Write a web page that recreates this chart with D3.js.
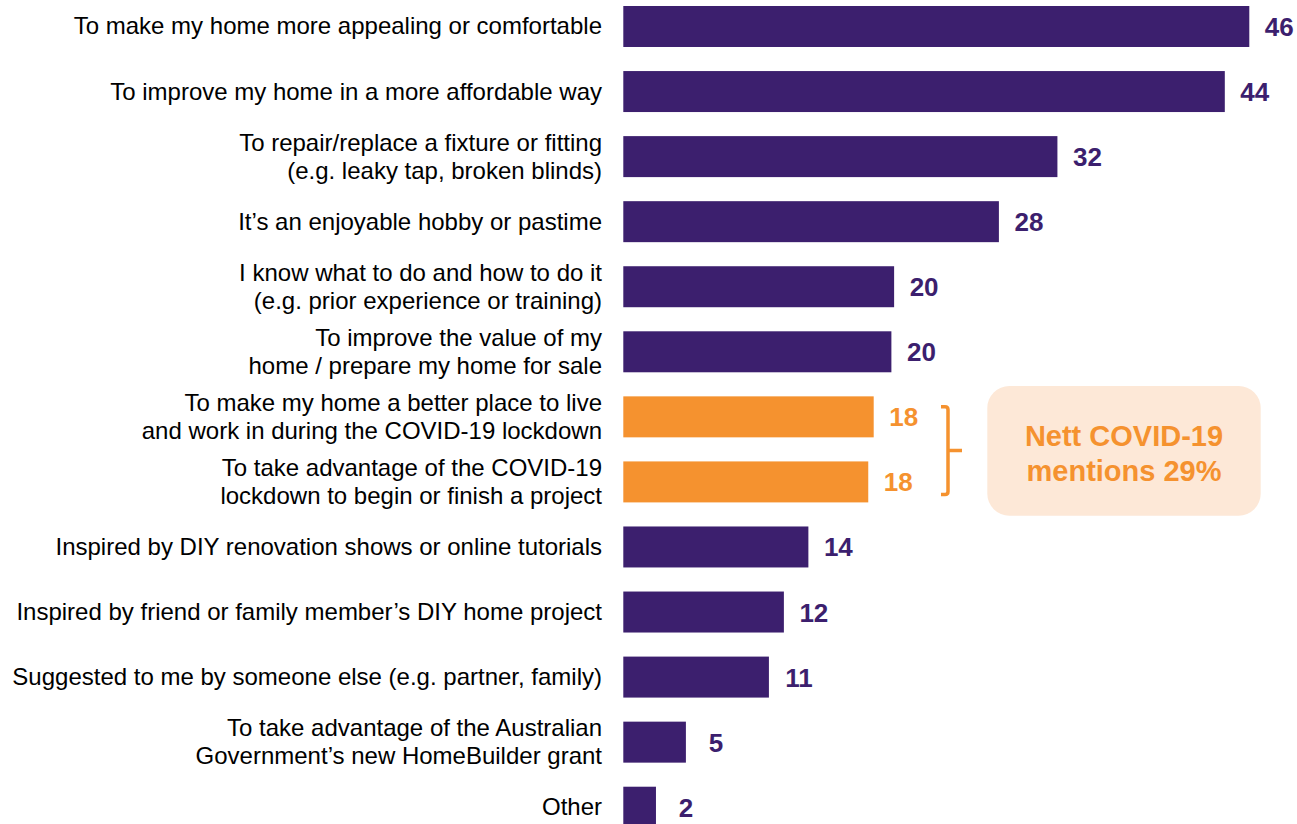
<!DOCTYPE html>
<html><head><meta charset="utf-8">
<script src="https://cdn.jsdelivr.net/npm/d3@7"></script>
<style>html,body{margin:0;padding:0;background:#fff;overflow:hidden}</style>
</head><body><svg id="chart" width="1297" height="824"></svg>
<script>
const categories = [
  "To make my home more appealing or comfortable",
  "To improve my home in a more affordable way",
  "To repair/replace a fixture or fitting\n(e.g. leaky tap, broken blinds)",
  "It\u2019s an enjoyable hobby or pastime",
  "I know what to do and how to do it\n(e.g. prior experience or training)",
  "To improve the value of my\nhome / prepare my home for sale",
  "To make my home a better place to live\nand work in during the COVID-19 lockdown",
  "To take advantage of the COVID-19\nlockdown to begin or finish a project",
  "Inspired by DIY renovation shows or online tutorials",
  "Inspired by friend or family member\u2019s DIY home project",
  "Suggested to me by someone else (e.g. partner, family)",
  "To take advantage of the Australian\nGovernment\u2019s new HomeBuilder grant",
  "Other"
];
const values = [46.0, 44.2, 31.9, 27.6, 19.9, 19.7, 18.4, 18.0, 13.6, 11.8, 10.7, 4.6, 2.4];
const valueLabels = ["46", "44", "32", "28", "20", "20", "18", "18", "14", "12", "11", "5", "2"];
const groups = ["main","main","main","main","main","main","covid","covid","main","main","main","main","main"];
const calloutLines = ["Nett COVID-19", "mentions 29%"];

const colors = { main: "#3C1F6E", covid: "#F5922F" };
const font = "Arial, 'Liberation Sans', sans-serif";

const svg = d3.select("#chart");
const x = d3.scaleLinear().domain([0, 46]).range([623.3, 1249.3]);
const y = d3.scaleBand().domain(categories).range([6, 827.7]).paddingInner(0.37).paddingOuter(0);
const bw = y.bandwidth();

const rows = svg.append("g").selectAll("g").data(categories).join("g");

rows.append("rect")
  .attr("x", x(0))
  .attr("y", d => y(d))
  .attr("width", (d, i) => x(values[i]) - x(0))
  .attr("height", bw)
  .attr("fill", (d, i) => colors[groups[i]]);

rows.append("text")
  .attr("x", (d, i) => x(values[i]) + 30)
  .attr("y", d => y(d) + bw / 2 + 9.5)
  .attr("text-anchor", "middle")
  .attr("font-family", font)
  .attr("font-weight", "bold")
  .attr("font-size", 26)
  .attr("fill", (d, i) => colors[groups[i]])
  .text((d, i) => valueLabels[i]);

const lineH = 28;
rows.append("text")
  .attr("text-anchor", "end")
  .attr("font-family", font)
  .attr("font-size", 24)
  .attr("fill", "#000")
  .each(function(d) {
    const lines = d.split("\n");
    const cy = y(d) + bw / 2;
    const t = d3.select(this);
    lines.forEach((ln, j) => {
      t.append("tspan")
        .attr("x", 602)
        .attr("y", cy + (j - (lines.length - 1) / 2) * lineH + 8)
        .text(ln);
    });
  });

// bracket for COVID group
const c1 = categories[6], c2 = categories[7];
const bTop = y(c1) + 10.3, bBot = y(c2) + bw - 8, bMid = (bTop + bBot) / 2;
const bx = 948;
svg.append("path")
  .attr("d", `M${bx-7},${bTop} H${bx-3} Q${bx},${bTop} ${bx},${bTop+3} V${bBot-3} Q${bx},${bBot} ${bx-3},${bBot} H${bx-7} M${bx},${bMid} H${bx+14}`)
  .attr("fill", "none")
  .attr("stroke", colors.covid)
  .attr("stroke-width", 3.5);

// callout box
const box = svg.append("g");
box.append("rect")
  .attr("x", 987.3).attr("y", 386).attr("width", 273.4).attr("height", 129.7)
  .attr("rx", 22).attr("ry", 22)
  .attr("fill", "#FDE8D7");
box.append("text")
  .attr("text-anchor", "middle")
  .attr("font-family", font)
  .attr("font-weight", "bold")
  .attr("font-size", 29)
  .attr("fill", colors.covid)
  .selectAll("tspan").data(calloutLines).join("tspan")
  .attr("x", 1124)
  .attr("y", (d, i) => 446 + i * 35)
  .text(d => d);
</script>
</body></html>
